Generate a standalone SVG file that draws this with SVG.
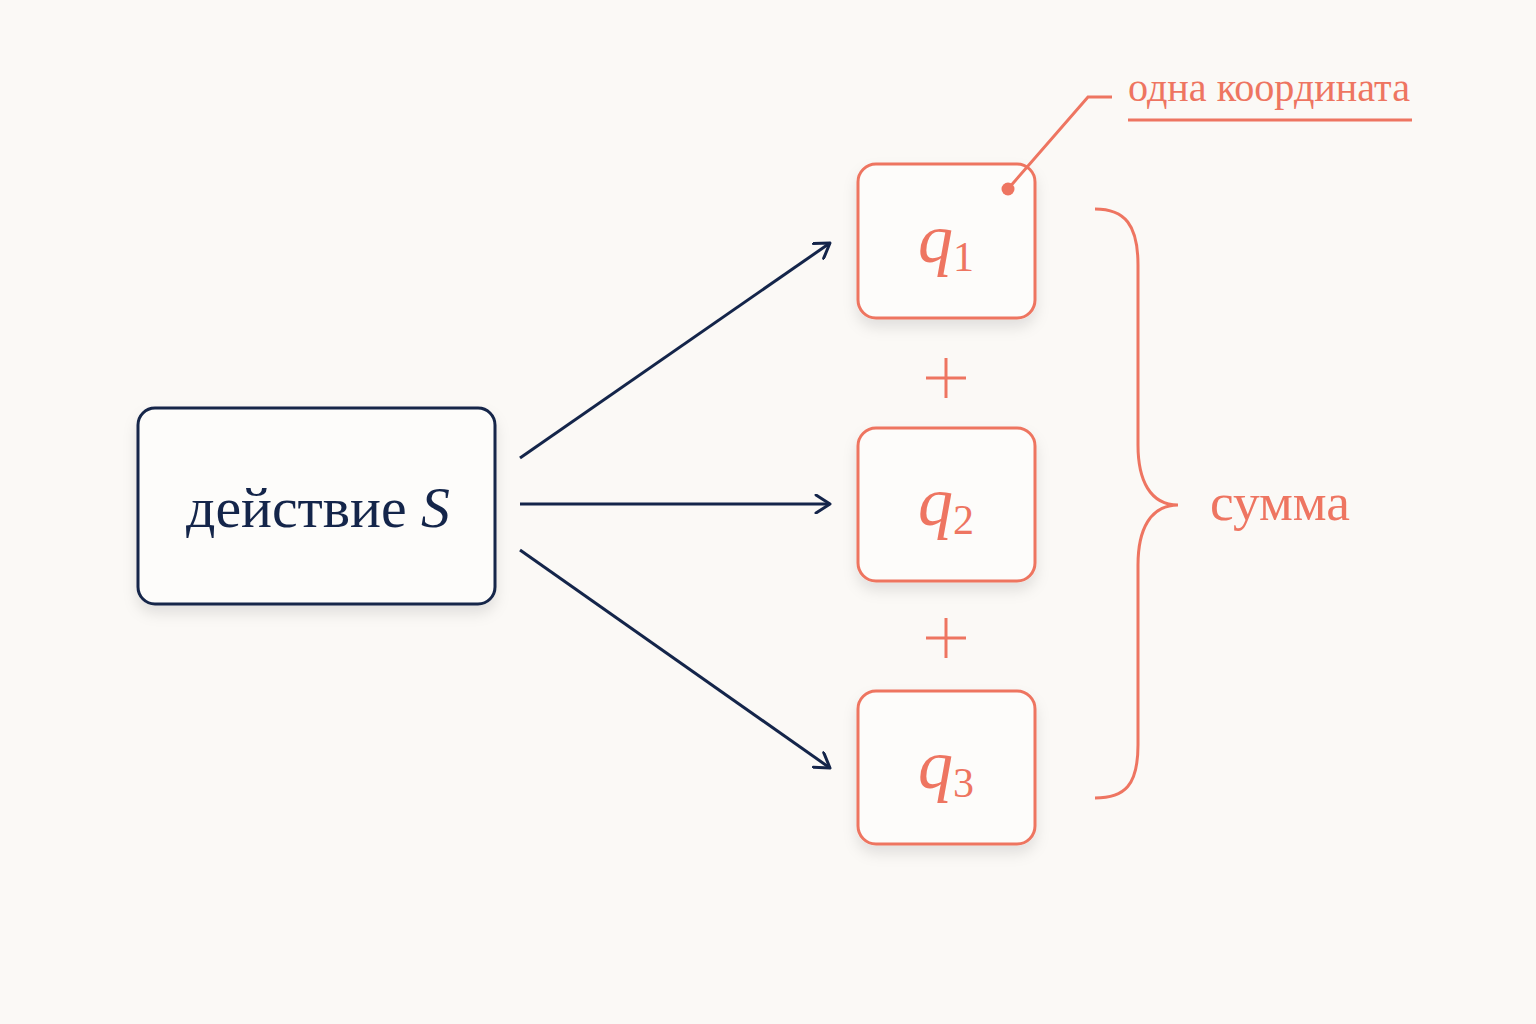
<svg xmlns="http://www.w3.org/2000/svg" width="1536" height="1024" viewBox="0 0 1536 1024">
<defs>
<style>
.bg{fill:#fbf9f6}
.navy{fill:#fdfcfa;stroke:#14254a;stroke-width:3}
.coral{fill:#fdfcfa;stroke:#ee7561;stroke-width:3}
.conn{stroke:#14254a;stroke-width:3;fill:none;marker-end:url(#arr)}
.cl{stroke:#ee7561;stroke-width:3;fill:none}
.t{font-family:"Liberation Serif","DejaVu Serif",serif}
.q{font-family:"Liberation Serif","DejaVu Serif",serif;fill:#ee7561}
</style>
<marker id="arr" viewBox="0 0 20 20" refX="18" refY="10" markerWidth="20" markerHeight="20" markerUnits="userSpaceOnUse" orient="auto">
<path d="M4,1 L18,10 L4,19" fill="none" stroke="#14254a" stroke-width="3" stroke-linecap="round" stroke-linejoin="round"/>
</marker>
<filter id="sh" x="-20%" y="-20%" width="140%" height="150%">
<feDropShadow dx="0" dy="8" stdDeviation="7" flood-color="#000" flood-opacity="0.10"/>
</filter>
</defs>
<rect class="bg" x="0" y="0" width="1536" height="1024"/>
<g id="connectors">
<line class="conn" x1="520" y1="458" x2="830" y2="243"/>
<line class="conn" x1="520" y1="504" x2="830" y2="504"/>
<line class="conn" x1="520" y1="550" x2="830" y2="768"/>
</g>
<g id="action">
<rect class="navy" x="138" y="408" width="357" height="196" rx="17" filter="url(#sh)"/>
<text class="t" x="186" y="527" font-size="57" fill="#14254a" textLength="264" lengthAdjust="spacingAndGlyphs">действие <tspan font-style="italic">S</tspan></text>
</g>
<g id="q1">
<rect class="coral" x="858" y="164" width="177" height="154" rx="18" filter="url(#sh)"/>
<text class="q" x="946" y="262" font-size="70" text-anchor="middle"><tspan font-style="italic">q</tspan><tspan font-size="42" dy="9">1</tspan></text>
</g>
<g id="q2">
<rect class="coral" x="858" y="428" width="177" height="153" rx="18" filter="url(#sh)"/>
<text class="q" x="946" y="525" font-size="70" text-anchor="middle"><tspan font-style="italic">q</tspan><tspan font-size="42" dy="9">2</tspan></text>
</g>
<g id="q3">
<rect class="coral" x="858" y="691" width="177" height="153" rx="18" filter="url(#sh)"/>
<text class="q" x="946" y="788" font-size="70" text-anchor="middle"><tspan font-style="italic">q</tspan><tspan font-size="42" dy="9">3</tspan></text>
</g>
<g id="plus1">
<line class="cl" x1="926" y1="378" x2="966" y2="378"/>
<line class="cl" x1="946" y1="358" x2="946" y2="398"/>
</g>
<g id="plus2">
<line class="cl" x1="926" y1="638" x2="966" y2="638"/>
<line class="cl" x1="946" y1="618" x2="946" y2="658"/>
</g>
<g id="brace">
<path class="cl" d="M1095,209 C1125,209 1138,225 1138,265 L1138,445 C1138,480 1150,505 1178,505 C1150,505 1138,530 1138,565 L1138,745 C1138,785 1125,798 1095,798"/>
<text class="q" x="1210" y="520" font-size="53" textLength="140" lengthAdjust="spacingAndGlyphs">сумма</text>
</g>
<g id="annotation">
<path class="cl" d="M1112,97 L1088,97 L1008,189" stroke-width="2.5"/>
<circle cx="1008" cy="189" r="6.5" fill="#ee7561"/>
<text class="q" x="1128" y="101" font-size="39" textLength="282" lengthAdjust="spacingAndGlyphs">одна координата</text>
<line class="cl" x1="1128" y1="120" x2="1412" y2="120" stroke-width="2.5"/>
</g>
</svg>
